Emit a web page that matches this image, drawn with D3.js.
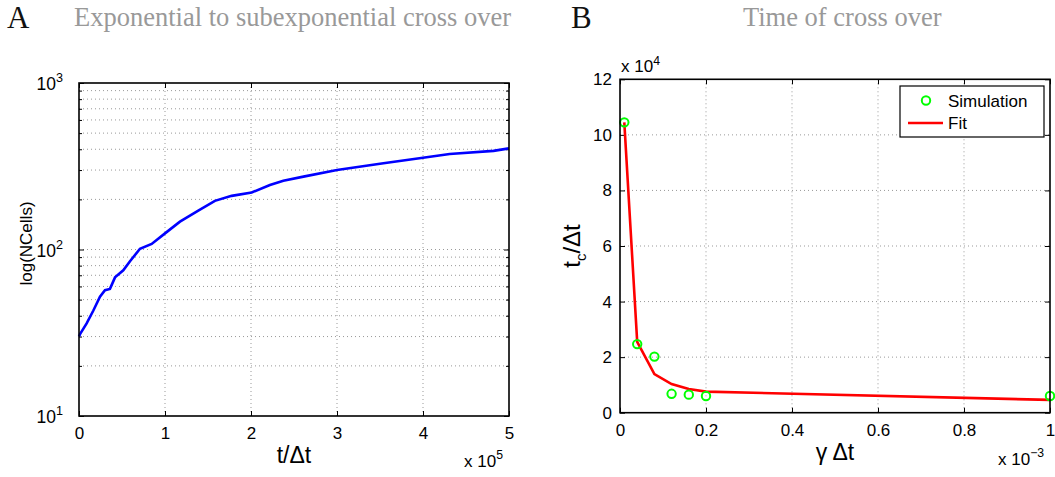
<!DOCTYPE html>
<html>
<head>
<meta charset="utf-8">
<script src="https://cdn.jsdelivr.net/npm/d3@7"></script>
<style>
  body { margin: 0; background: #fff; }
  svg text { font-family: "Liberation Sans", Arial, sans-serif; }
</style>
</head>
<body>
<script>
// panel A : cell count over time (t in units of 1e5)
var tA = [0, 0.012, 0.089, 0.167, 0.244, 0.302, 0.36, 0.419, 0.515, 0.593, 0.709, 0.845, 1.0, 1.174, 1.387, 1.58, 1.775, 2.008, 2.22, 2.376, 2.61, 3.0, 3.54, 4.0, 4.31, 4.82, 5.0];
var nCells = [30, 31, 36, 43, 52, 57, 58, 68, 75, 85, 101, 108, 125, 147, 171, 196, 210, 220, 244, 259, 274, 300, 330, 356, 375, 391, 405];
var xTicksA = [0, 1, 2, 3, 4, 5];
var yDecadesA = [10, 100, 1000];

// panel B : crossover time vs gamma (gamma in 1e-3, tc in 1e4)
var gammaSim = [0.01, 0.04, 0.08, 0.12, 0.16, 0.2, 1.0];
var tcSim = [10.45, 2.47, 2.02, 0.68, 0.65, 0.6, 0.6];
var gammaFit = [0.01, 0.04, 0.08, 0.12, 0.16, 0.2, 1.0];
var tcFit = [10.45, 2.55, 1.39, 1.03, 0.85, 0.76, 0.46];
var xTicksB = [0, 0.2, 0.4, 0.6, 0.8, 1];
var yTicksB = [0, 2, 4, 6, 8, 10, 12];

var svg = d3.select("body").append("svg")
  .attr("width", 1055).attr("height", 477);

// titles
svg.append("text").attr("x", 7).attr("y", 28).text("A")
  .style("font-family", "Liberation Serif").style("font-size", "31px").attr("fill", "#111");
svg.append("text").attr("x", 74).attr("y", 26).text("Exponential to subexponential cross over")
  .style("font-family", "Liberation Serif").style("font-size", "26.5px").attr("fill", "#999");
svg.append("text").attr("x", 571).attr("y", 28).text("B")
  .style("font-family", "Liberation Serif").style("font-size", "31px").attr("fill", "#111");
svg.append("text").attr("x", 743).attr("y", 26).text("Time of cross over")
  .style("font-family", "Liberation Serif").style("font-size", "26.5px").attr("fill", "#999");

function supLabel(g, x, y, base, sup, size, anchor) {
  var t = g.append("text").attr("x", x).attr("y", y).attr("text-anchor", anchor || "start")
    .style("font-size", size + "px").attr("fill", "#000");
  t.append("tspan").text(base);
  t.append("tspan").attr("dy", -size * 0.45).style("font-size", (size * 0.72) + "px").text(sup);
  return t;
}

// ---------- panel A ----------
var A = { left: 79, top: 83, w: 430, h: 333 };
var gA = svg.append("g").attr("transform", "translate(" + A.left + "," + A.top + ")");

var xA = d3.scaleLinear().domain([0, 5]).range([0, A.w]);
var yA = d3.scaleLog().domain([10, 1000]).range([A.h, 0]);

var minorA = [];
[10, 100].forEach(function(d) { for (var k = 2; k <= 9; k++) minorA.push(d * k); });

// grid
gA.selectAll(".gx").data(xTicksA.slice(1, -1)).enter().append("line")
  .attr("x1", d => xA(d)).attr("x2", d => xA(d)).attr("y1", 0).attr("y2", A.h)
  .attr("stroke", "#999").attr("stroke-dasharray", "1,3");
gA.selectAll(".gy").data(minorA.concat([100])).enter().append("line")
  .attr("y1", d => yA(d)).attr("y2", d => yA(d)).attr("x1", 0).attr("x2", A.w)
  .attr("stroke", "#999").attr("stroke-dasharray", "1,3");

// ticks
gA.append("g").attr("transform", "translate(0," + A.h + ")")
  .call(d3.axisBottom(xA).tickValues(xTicksA).tickSize(-5).tickPadding(11).tickFormat(d3.format("d")))
  .call(g => g.select(".domain").remove())
  .call(g => g.selectAll("text").style("font-size", "17px").attr("fill", "#000"));
gA.append("g")
  .call(d3.axisTop(xA).tickValues(xTicksA).tickSize(-5).tickFormat(""))
  .call(g => g.select(".domain").remove());
gA.append("g")
  .call(d3.axisLeft(yA).tickValues(yDecadesA).tickSize(-5).tickFormat(""))
  .call(g => g.select(".domain").remove());
gA.append("g")
  .call(d3.axisLeft(yA).tickValues(minorA).tickSize(-3).tickFormat(""))
  .call(g => g.select(".domain").remove());
gA.append("g").attr("transform", "translate(" + A.w + ",0)")
  .call(d3.axisRight(yA).tickValues(yDecadesA).tickSize(-5).tickFormat(""))
  .call(g => g.select(".domain").remove());
gA.append("g").attr("transform", "translate(" + A.w + ",0)")
  .call(d3.axisRight(yA).tickValues(minorA).tickSize(-3).tickFormat(""))
  .call(g => g.select(".domain").remove());

yDecadesA.forEach(function(d) {
  supLabel(gA, -16, yA(d) + 7, "10", String(Math.round(Math.log10(d))), 17.5, "end");
});

var lineA = d3.line().x((d, i) => xA(tA[i])).y(d => yA(d)).curve(d3.curveLinear);
gA.append("path").datum(nCells).attr("d", lineA)
  .attr("fill", "none").attr("stroke", "#0000ff").attr("stroke-width", 2.6);

gA.append("rect").attr("width", A.w).attr("height", A.h)
  .attr("fill", "none").attr("stroke", "#000").attr("stroke-width", 1.6);

gA.append("text").attr("x", xA(2.5)).attr("y", A.h + 47).attr("text-anchor", "middle")
  .style("font-size", "23px").text("t/\u0394t");
supLabel(gA, A.w - 45, A.h + 51, "x 10", "5", 17, "start");
gA.append("text").attr("transform", "translate(-47," + (A.h / 2 - 6) + ") rotate(-90)")
  .attr("text-anchor", "middle").style("font-size", "17px").text("log(NCells)");

// ---------- panel B ----------
var B = { left: 620, top: 79.3, w: 430, h: 333.4 };
var gB = svg.append("g").attr("transform", "translate(" + B.left + "," + B.top + ")");

var xB = d3.scaleLinear().domain([0, 1]).range([0, B.w]);
var yB = d3.scaleLinear().domain([0, 12]).range([B.h, 0]);

gB.selectAll(".gx").data(xTicksB.slice(1, -1)).enter().append("line")
  .attr("x1", d => xB(d)).attr("x2", d => xB(d)).attr("y1", 0).attr("y2", B.h)
  .attr("stroke", "#999").attr("stroke-dasharray", "1,3");
gB.selectAll(".gy").data(yTicksB.slice(1, -1)).enter().append("line")
  .attr("y1", d => yB(d)).attr("y2", d => yB(d)).attr("x1", 0).attr("x2", B.w)
  .attr("stroke", "#999").attr("stroke-dasharray", "1,3");

gB.append("g").attr("transform", "translate(0," + B.h + ")")
  .call(d3.axisBottom(xB).tickValues(xTicksB).tickSize(-5).tickPadding(11).tickFormat(d => d3.format("")(d)))
  .call(g => g.select(".domain").remove())
  .call(g => g.selectAll("text").style("font-size", "17px").attr("fill", "#000"));
gB.append("g")
  .call(d3.axisTop(xB).tickValues(xTicksB).tickSize(-5).tickFormat(""))
  .call(g => g.select(".domain").remove());
gB.append("g")
  .call(d3.axisLeft(yB).tickValues(yTicksB).tickSize(-5).tickPadding(8).tickFormat(d3.format("d")))
  .call(g => g.select(".domain").remove())
  .call(g => g.selectAll("text").style("font-size", "17px").attr("fill", "#000"));
gB.append("g").attr("transform", "translate(" + B.w + ",0)")
  .call(d3.axisRight(yB).tickValues(yTicksB).tickSize(-5).tickFormat(""))
  .call(g => g.select(".domain").remove());

var lineB = d3.line().x((d, i) => xB(gammaFit[i])).y(d => yB(d));
gB.append("path").datum(tcFit).attr("d", lineB)
  .attr("fill", "none").attr("stroke", "#ff0000").attr("stroke-width", 2.6);

gB.selectAll(".sim").data(tcSim).enter().append("circle")
  .attr("cx", (d, i) => xB(gammaSim[i])).attr("cy", d => yB(d)).attr("r", 4.2)
  .attr("fill", "none").attr("stroke", "#00ff00").attr("stroke-width", 2);

gB.append("rect").attr("width", B.w).attr("height", B.h)
  .attr("fill", "none").attr("stroke", "#000").attr("stroke-width", 1.6);

// legend
var lg = gB.append("g").attr("transform", "translate(" + (900 - B.left) + "," + (86 - B.top) + ")");
lg.append("rect").attr("width", 144).attr("height", 51)
  .attr("fill", "#fff").attr("stroke", "#000").attr("stroke-width", 1.2);
lg.append("circle").attr("cx", 26).attr("cy", 14.5).attr("r", 4.2)
  .attr("fill", "none").attr("stroke", "#00ff00").attr("stroke-width", 2);
lg.append("text").attr("x", 48).attr("y", 20.5).style("font-size", "17px").text("Simulation");
lg.append("line").attr("x1", 8).attr("x2", 43).attr("y1", 37).attr("y2", 37)
  .attr("stroke", "#ff0000").attr("stroke-width", 2.6);
lg.append("text").attr("x", 48).attr("y", 43).style("font-size", "17px").text("Fit");

supLabel(gB, 1, -7, "x 10", "4", 17, "start");
supLabel(gB, B.w - 52, B.h + 52, "x 10", "\u22123", 17, "start");
gB.append("text").attr("x", xB(0.5)).attr("y", B.h + 47).attr("text-anchor", "middle")
  .style("font-size", "23px").text("\u03b3 \u0394t");

var yl = gB.append("text").attr("transform", "translate(-40," + (B.h / 2) + ") rotate(-90)")
  .attr("text-anchor", "middle").style("font-size", "24px");
yl.append("tspan").text("t");
yl.append("tspan").attr("dy", 6).style("font-size", "15px").text("c");
yl.append("tspan").attr("dy", -6).text("/\u0394t");
</script>
</body>
</html>
